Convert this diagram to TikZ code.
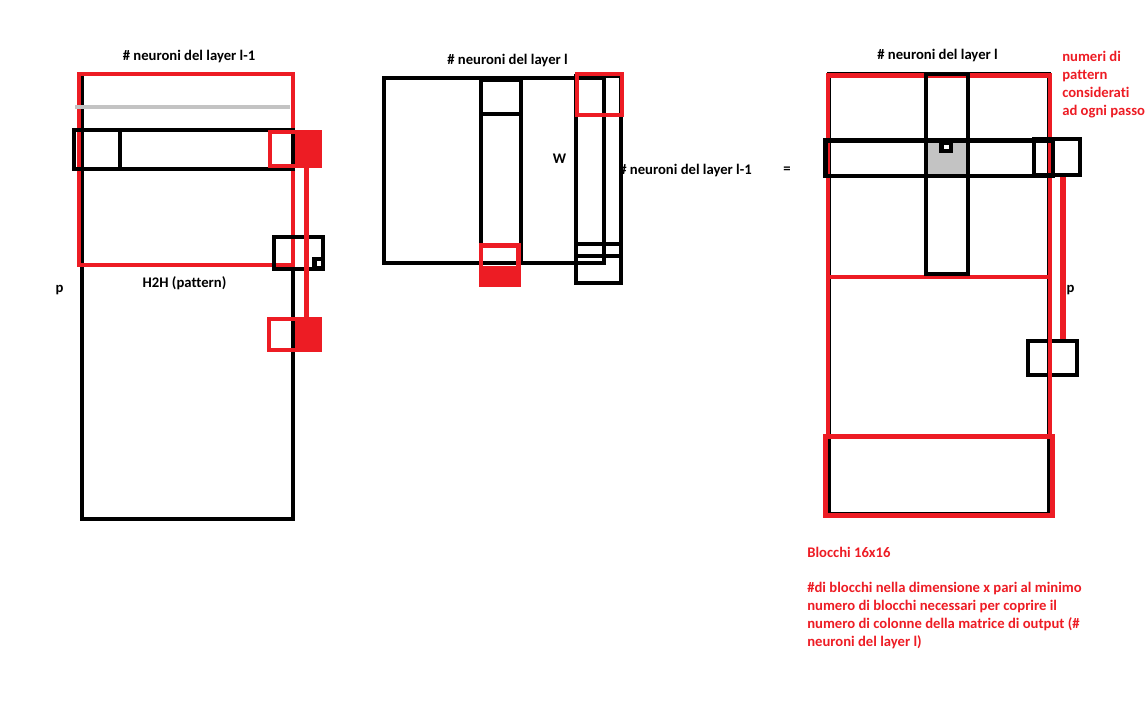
\documentclass[tikz,border=0pt]{standalone}
\usepackage{fontspec}
\setmainfont{Carlito}[Ligatures=NoCommon]
\definecolor{paintred}{HTML}{ED1C24}
\definecolor{paintgray}{HTML}{C3C3C3}
\begin{document}
\begin{tikzpicture}[x=0.75pt, y=-0.75pt, line join=miter,
  font=\fontsize{11}{13.5}\selectfont\bfseries,
  blk/.style={draw=black, line width=3.2pt},
  rbox/.style={draw=paintred, line width=3.5pt},
  rline/.style={draw=paintred, line width=3.8pt},
  lab/.style={inner sep=0pt},
  note/.style={inner sep=0pt, anchor=north west, align=left, text=paintred}]
  \useasboundingbox (0,0) rectangle (1148,700);
  % H2H
  \node[lab] (labA) at (189,57) {\# neuroni del layer l-1};
  \node[lab] (labH) at (184.5,283) {H2H (pattern)};
  \node[lab] (labPa) at (59.5,290) {p};
  \draw[blk] (82,74) rectangle (293,519);
  \draw[rbox] (79,74) rectangle (293,265);
  \draw[draw=paintgray, line width=2.8pt] (75,107) -- (290,107);
  \draw[blk] (74,130) rectangle (293,169);
  \draw[blk] (74,130) rectangle (120,169);
  \fill[paintred] (295,130) rectangle (322,168);
  \draw[rbox] (270,132) rectangle (320,166);
  \draw[blk] (274,237) rectangle (323,269);
  \fill (312,257) rectangle (325,271);
  \fill[white] (317,261) rectangle (321,266);
  \fill[paintred] (295,317) rectangle (322,352);
  \draw[rbox] (269,319) rectangle (320,350);
  \coordinate (hA) at (306.5,168);
  \coordinate (hB) at (306.5,317);
  \draw[rline] (hA) -- (hB);
  % W
  \node[lab] (labB) at (507.5,61) {\# neuroni del layer l};
  \node[lab] (labW) at (559.5,158.5) {W};
  \node[lab] (labWr) at (685.5,171) {\# neuroni del layer l-1};
  \node[lab] (labEq) at (787,170.5) {=};
  \draw[blk] (384,78) rectangle (604,263);
  \draw[blk] (481,80) rectangle (521,263);
  \draw[blk] (481,80) rectangle (521,114);
  \draw[blk] (576,76) rectangle (621,256);
  \draw[blk] (576,244) rectangle (621,283);
  \draw[rbox] (577,74) rectangle (622,115);
  \fill[paintred] (479,266) rectangle (520.7,286.7);
  \draw[rbox] (481,245.5) rectangle (518.5,284.5);
  % output
  \node[lab] (labC) at (937.5,56) {\# neuroni del layer l};
  \node[lab] (labPb) at (1070.5,290) {p};
  \draw[blk] (829,74) rectangle (1049,514);
  \draw[blk] (1028,341) rectangle (1077,375);
  \draw[rbox] (828,75.5) rectangle (1050,436);
  \draw[rbox] (828,277) -- (1050,277);
  \draw[rbox, line width=3.8pt] (825.5,436.5) rectangle (1052.5,515.5);
  \fill[paintgray] (928,142) rectangle (966,174);
  \draw[blk] (926,74) rectangle (968,274);
  \draw[blk] (825.5,140.5) rectangle (1053,176);
  \fill (939,143) rectangle (953,153);
  \fill[white] (944,145) rectangle (949,149);
  \draw[blk] (1034,139) rectangle (1080,175);
  \coordinate (pA) at (1063,177);
  \coordinate (pB) at (1063,339);
  \draw[rline] (pA) -- (pB);
  \node[note] (noteP) at (1062,51) {numeri di\\pattern\\considerati\\ad ogni passo};
  \node[note] (noteB) at (807,547) {Blocchi 16x16};
  \node[note] (noteX) at (807,582) {\#di blocchi nella dimensione x pari al minimo\\numero di blocchi necessari per coprire il\\numero di colonne della matrice di output (\#\\neuroni del layer l)};
\end{tikzpicture}
\end{document}
